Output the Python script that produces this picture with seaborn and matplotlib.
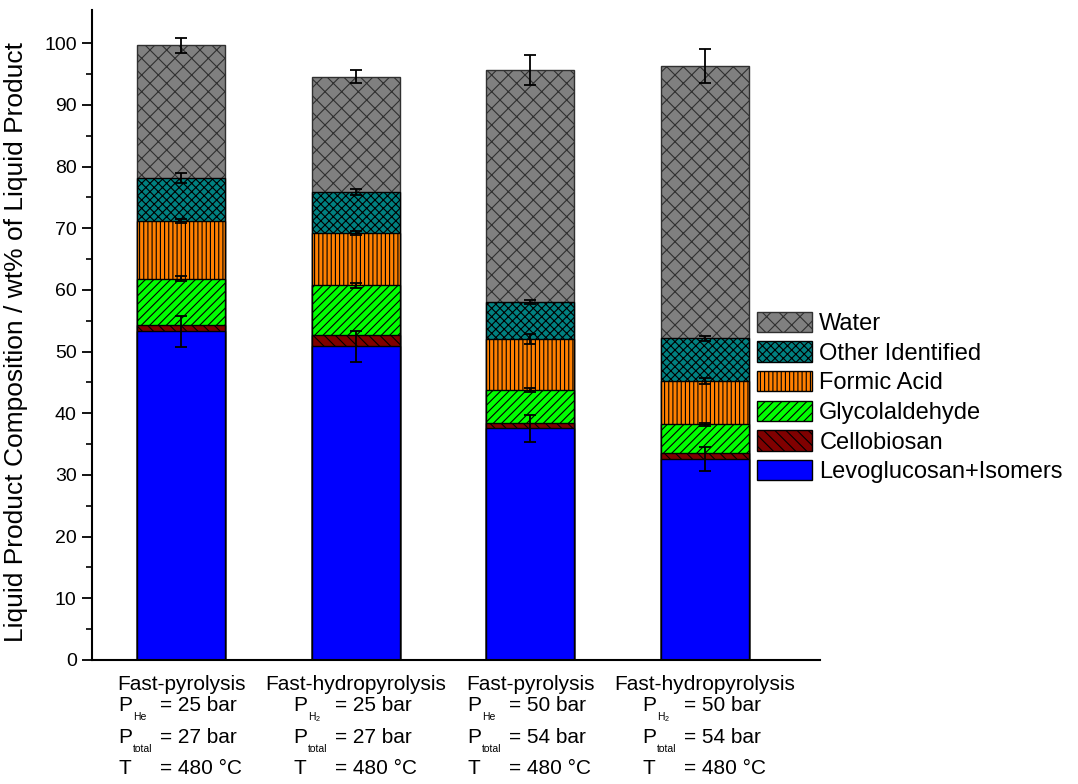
import numpy as np
import pandas as pd
import matplotlib
matplotlib.use("Agg")
import matplotlib.pyplot as plt
import seaborn as sns
from matplotlib.patches import Patch

# ---------------- data ----------------
conditions = ["Fast-pyrolysis", "Fast-hydropyrolysis", "Fast-pyrolysis ", "Fast-hydropyrolysis "]
tick_titles = ["Fast-pyrolysis", "Fast-hydropyrolysis", "Fast-pyrolysis", "Fast-hydropyrolysis"]
gas_subs = ["He", r"$\mathrm{H_2}$", "He", r"$\mathrm{H_2}$"]
p_gas = [25, 25, 50, 50]
p_total = [27, 27, 54, 54]
temps = [480, 480, 480, 480]

components = ["Levoglucosan+Isomers", "Cellobiosan", "Glycolaldehyde",
              "Formic Acid", "Other Identified", "Water"]
levo = [53.3, 50.9, 37.6, 32.6]
cello = [1.0, 1.8, 0.8, 1.0]
glyco = [7.5, 8.1, 5.4, 4.6]
formic = [9.4, 8.4, 8.2, 7.0]
other = [7.0, 6.7, 6.0, 7.0]
water = [21.5, 18.7, 37.7, 44.1]

err_levo = [2.5, 2.5, 2.2, 2.0]
err_cello = [0.0, 0.0, 0.0, 0.0]
err_glyco = [0.4, 0.4, 0.3, 0.3]
err_formic = [0.3, 0.3, 0.8, 0.5]
err_other = [0.8, 0.5, 0.3, 0.4]
err_water = [1.2, 1.0, 2.45, 2.8]

values = [levo, cello, glyco, formic, other, water]
errors = [err_levo, err_cello, err_glyco, err_formic, err_other, err_water]

colors = ["#0000FF", "#800000", "#00FF00", "#FF8000", "#008080", "#808080"]
hatches = [None, "\\\\\\", "////", "||||", "xxxx", "xx"]
edgecolors = ["black", "black", "black", "black", "black", "#303030"]

# ---------------- style ----------------
sns.set_theme(style="ticks")
plt.rcParams["font.family"] = ["Liberation Sans", "DejaVu Sans"]
plt.rcParams["mathtext.fontset"] = "custom"
plt.rcParams["mathtext.rm"] = "Liberation Sans"
plt.rcParams["mathtext.it"] = "Liberation Sans"
plt.rcParams["mathtext.bf"] = "Liberation Sans:bold"
plt.rcParams["hatch.linewidth"] = 0.8
for key in ["text.color", "axes.labelcolor", "xtick.color", "ytick.color", "axes.edgecolor"]:
    plt.rcParams[key] = "black"

fig = plt.figure(figsize=(10.78, 7.84), dpi=100)
ax = fig.add_axes([92 / 1078, 1 - 660 / 784, (820 - 92) / 1078, (660 - 10) / 784])

cum = np.cumsum(np.array(values), axis=0)
df = pd.DataFrame({"condition": conditions})

# draw tallest cumulative first so lower layers overlay
for i in range(len(components) - 1, -1, -1):
    df["value"] = cum[i]
    sns.barplot(data=df, x="condition", y="value", order=conditions,
                color=colors[i], saturation=1, width=0.505,
                edgecolor=edgecolors[i], linewidth=1.0,
                hatch=hatches[i], errorbar=None, ax=ax)

xpos = np.arange(len(conditions))
for i in range(len(components)):
    errs = np.array(errors[i])
    mask = errs > 0
    ax.errorbar(xpos[mask], cum[i][mask], yerr=errs[mask], fmt="none",
                ecolor="black", elinewidth=1.3, capsize=4.5, capthick=1.3, zorder=5)

ax.set_xlim(-0.51, 3.66)
ax.set_ylim(0, 105.4)
ax.set_yticks(np.arange(0, 101, 10))
ax.set_yticks(np.arange(0, 101, 5), minor=True)
ax.tick_params(axis="y", which="major", direction="out", length=7, width=1.3, labelsize=14, pad=4)
ax.tick_params(axis="y", which="minor", direction="out", length=4, width=1.2)
ax.tick_params(axis="x", length=0, labelsize=15, pad=11)
ax.set_xticks(xpos)
ax.set_xticklabels(tick_titles)
ax.set_xlabel("")
ax.set_ylabel("Liquid Product Composition / wt% of Liquid Product", fontsize=19)
ax.yaxis.set_label_coords(-0.088, 0.49)
sns.despine(ax=ax, top=True, right=True)
for s in ["left", "bottom"]:
    ax.spines[s].set_linewidth(1.5)
    ax.spines[s].set_color("black")

# condition details below each tick label (baselines in points below the axis)
line_offsets = [-37, -60, -82]


def put(text, k, dx, dy, size):
    ax.annotate(text, xy=(xpos[k], 0), xycoords=("data", "axes fraction"),
                xytext=(dx, dy), textcoords="offset points",
                ha="left", va="baseline", fontsize=size, annotation_clip=False)


for k in range(len(conditions)):
    subs = [gas_subs[k], "total", None]
    mains = ["P", "P", "T"]
    rights = ["= %d bar" % p_gas[k], "= %d bar" % p_total[k], "= %d °C" % temps[k]]
    for main, sub, right, off in zip(mains, subs, rights, line_offsets):
        put(main, k, -45, off, 15)
        if sub is not None:
            put(sub, k, -34.5, off - 6.5, 7.5)
        put(right, k, -15, off, 15)

handles = [Patch(facecolor=colors[i], edgecolor=edgecolors[i], hatch=hatches[i], linewidth=1.0)
           for i in range(len(components) - 1, -1, -1)]
labels = components[::-1]
fig.legend(handles, labels, loc="upper left", bbox_to_anchor=(752 / 1078, 1 - 307 / 784),
           frameon=False, fontsize=17, handlelength=2.35, handleheight=0.95,
           labelspacing=0.27, handletextpad=0.3, borderpad=0.2, borderaxespad=0)

fig.savefig("out.png", dpi=100)
